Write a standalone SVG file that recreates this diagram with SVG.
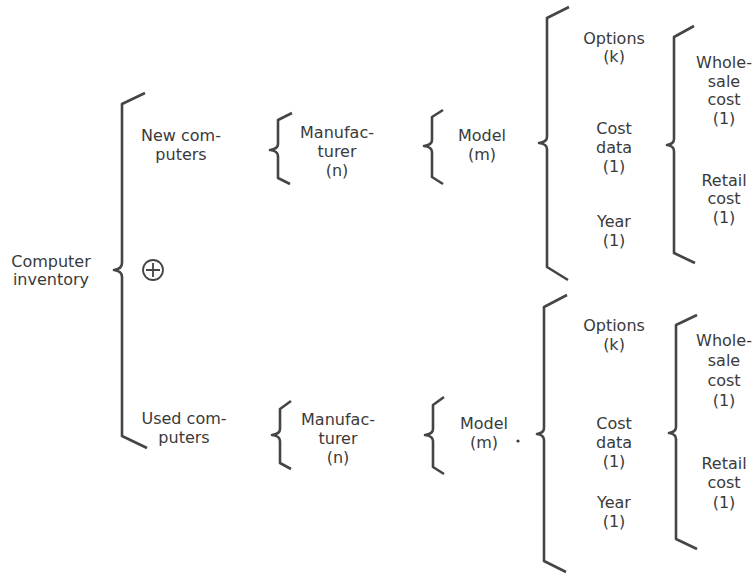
<svg xmlns="http://www.w3.org/2000/svg" width="754" height="574" viewBox="0 0 754 574">
<style>
text{font-family:"DejaVu Sans","Liberation Sans",sans-serif;font-size:16px;fill:#3a3a3a;text-anchor:middle}
.br{fill:none;stroke:#454545;stroke-width:2.6;stroke-linejoin:round;stroke-linecap:butt}
</style>
<rect width="754" height="574" fill="#fff"/>
<g id="connectors">
<path class="br" d="M145,93 L122,104 L122,263 Q122,269 114,270 Q122,271 122,277 L122,436 L147,448"/>
<path class="br" d="M292,113 L278,120 L278,144 Q278,149 270,150 Q278,151 278,156 L278,178 L290,184"/>
<path class="br" d="M443,110 L432,117 L432,140 Q432,145 424,146 Q432,147 432,152 L432,177 L443,184"/>
<path class="br" d="M569,7 L547,18 L547,137 Q547,142 539,143 Q547,144 547,149 L547,267 L568,280"/>
<path class="br" d="M694,26 L674,37 L674,139 Q674,144 667,145 Q674,146 674,151 L674,253 L695,263"/>
<path class="br" d="M291,401 L280,409 L280,429 Q280,434 272,435 Q280,436 280,441 L280,463 L291,469"/>
<path class="br" d="M444,397 L433,405 L433,429 Q433,434 425,435 Q433,436 433,441 L433,467 L444,474"/>
<path class="br" d="M567,295 L544,307 L544,428 Q544,433 537,434 Q544,435 544,440 L544,561 L566,572"/>
<path class="br" d="M697,315 L676,325 L676,427 Q676,432 669,433 Q676,434 676,439 L676,539 L697,549"/>
</g>
<g id="computer-inventory"><text x="51" y="267">Computer</text><text x="51" y="285">inventory</text></g>
<g id="xor"><circle cx="153" cy="270" r="10" fill="none" stroke="#454545" stroke-width="1.8"/><path d="M153,263 V277 M146,270 H160" stroke="#454545" stroke-width="1.8"/></g>
<g id="new-computers"><text x="181" y="141">New com-</text><text x="181" y="160">puters</text></g>
<g id="used-computers"><text x="184" y="424">Used com-</text><text x="184" y="443">puters</text></g>
<g id="manufacturer-new"><text x="337" y="138">Manufac-</text><text x="337" y="157">turer</text><text x="337" y="176">(n)</text></g>
<g id="model-new"><text x="482" y="141">Model</text><text x="482" y="160">(m)</text></g>
<g id="manufacturer-used"><text x="338" y="425">Manufac-</text><text x="338" y="444">turer</text><text x="338" y="463">(n)</text></g>
<g id="model-used"><text x="484" y="429">Model</text><text x="484" y="448">(m)</text><circle cx="518" cy="441" r="1.6" fill="#3a3a3a"/></g>
<g id="options-new"><text x="614" y="44">Options</text><text x="614" y="62">(k)</text></g>
<g id="costdata-new"><text x="614" y="134">Cost</text><text x="614" y="153">data</text><text x="614" y="172">(1)</text></g>
<g id="year-new"><text x="614" y="227">Year</text><text x="614" y="246">(1)</text></g>
<g id="wholesale-new"><text x="724" y="68">Whole-</text><text x="724" y="87">sale</text><text x="724" y="105">cost</text><text x="724" y="124">(1)</text></g>
<g id="retail-new"><text x="724" y="186">Retail</text><text x="724" y="204">cost</text><text x="724" y="223">(1)</text></g>
<g id="options-used"><text x="614" y="331">Options</text><text x="614" y="350">(k)</text></g>
<g id="costdata-used"><text x="614" y="429">Cost</text><text x="614" y="448">data</text><text x="614" y="467">(1)</text></g>
<g id="year-used"><text x="614" y="508">Year</text><text x="614" y="527">(1)</text></g>
<g id="wholesale-used"><text x="724" y="346">Whole-</text><text x="724" y="366">sale</text><text x="724" y="386">cost</text><text x="724" y="406">(1)</text></g>
<g id="retail-used"><text x="724" y="469">Retail</text><text x="724" y="488">cost</text><text x="724" y="508">(1)</text></g>
</svg>
